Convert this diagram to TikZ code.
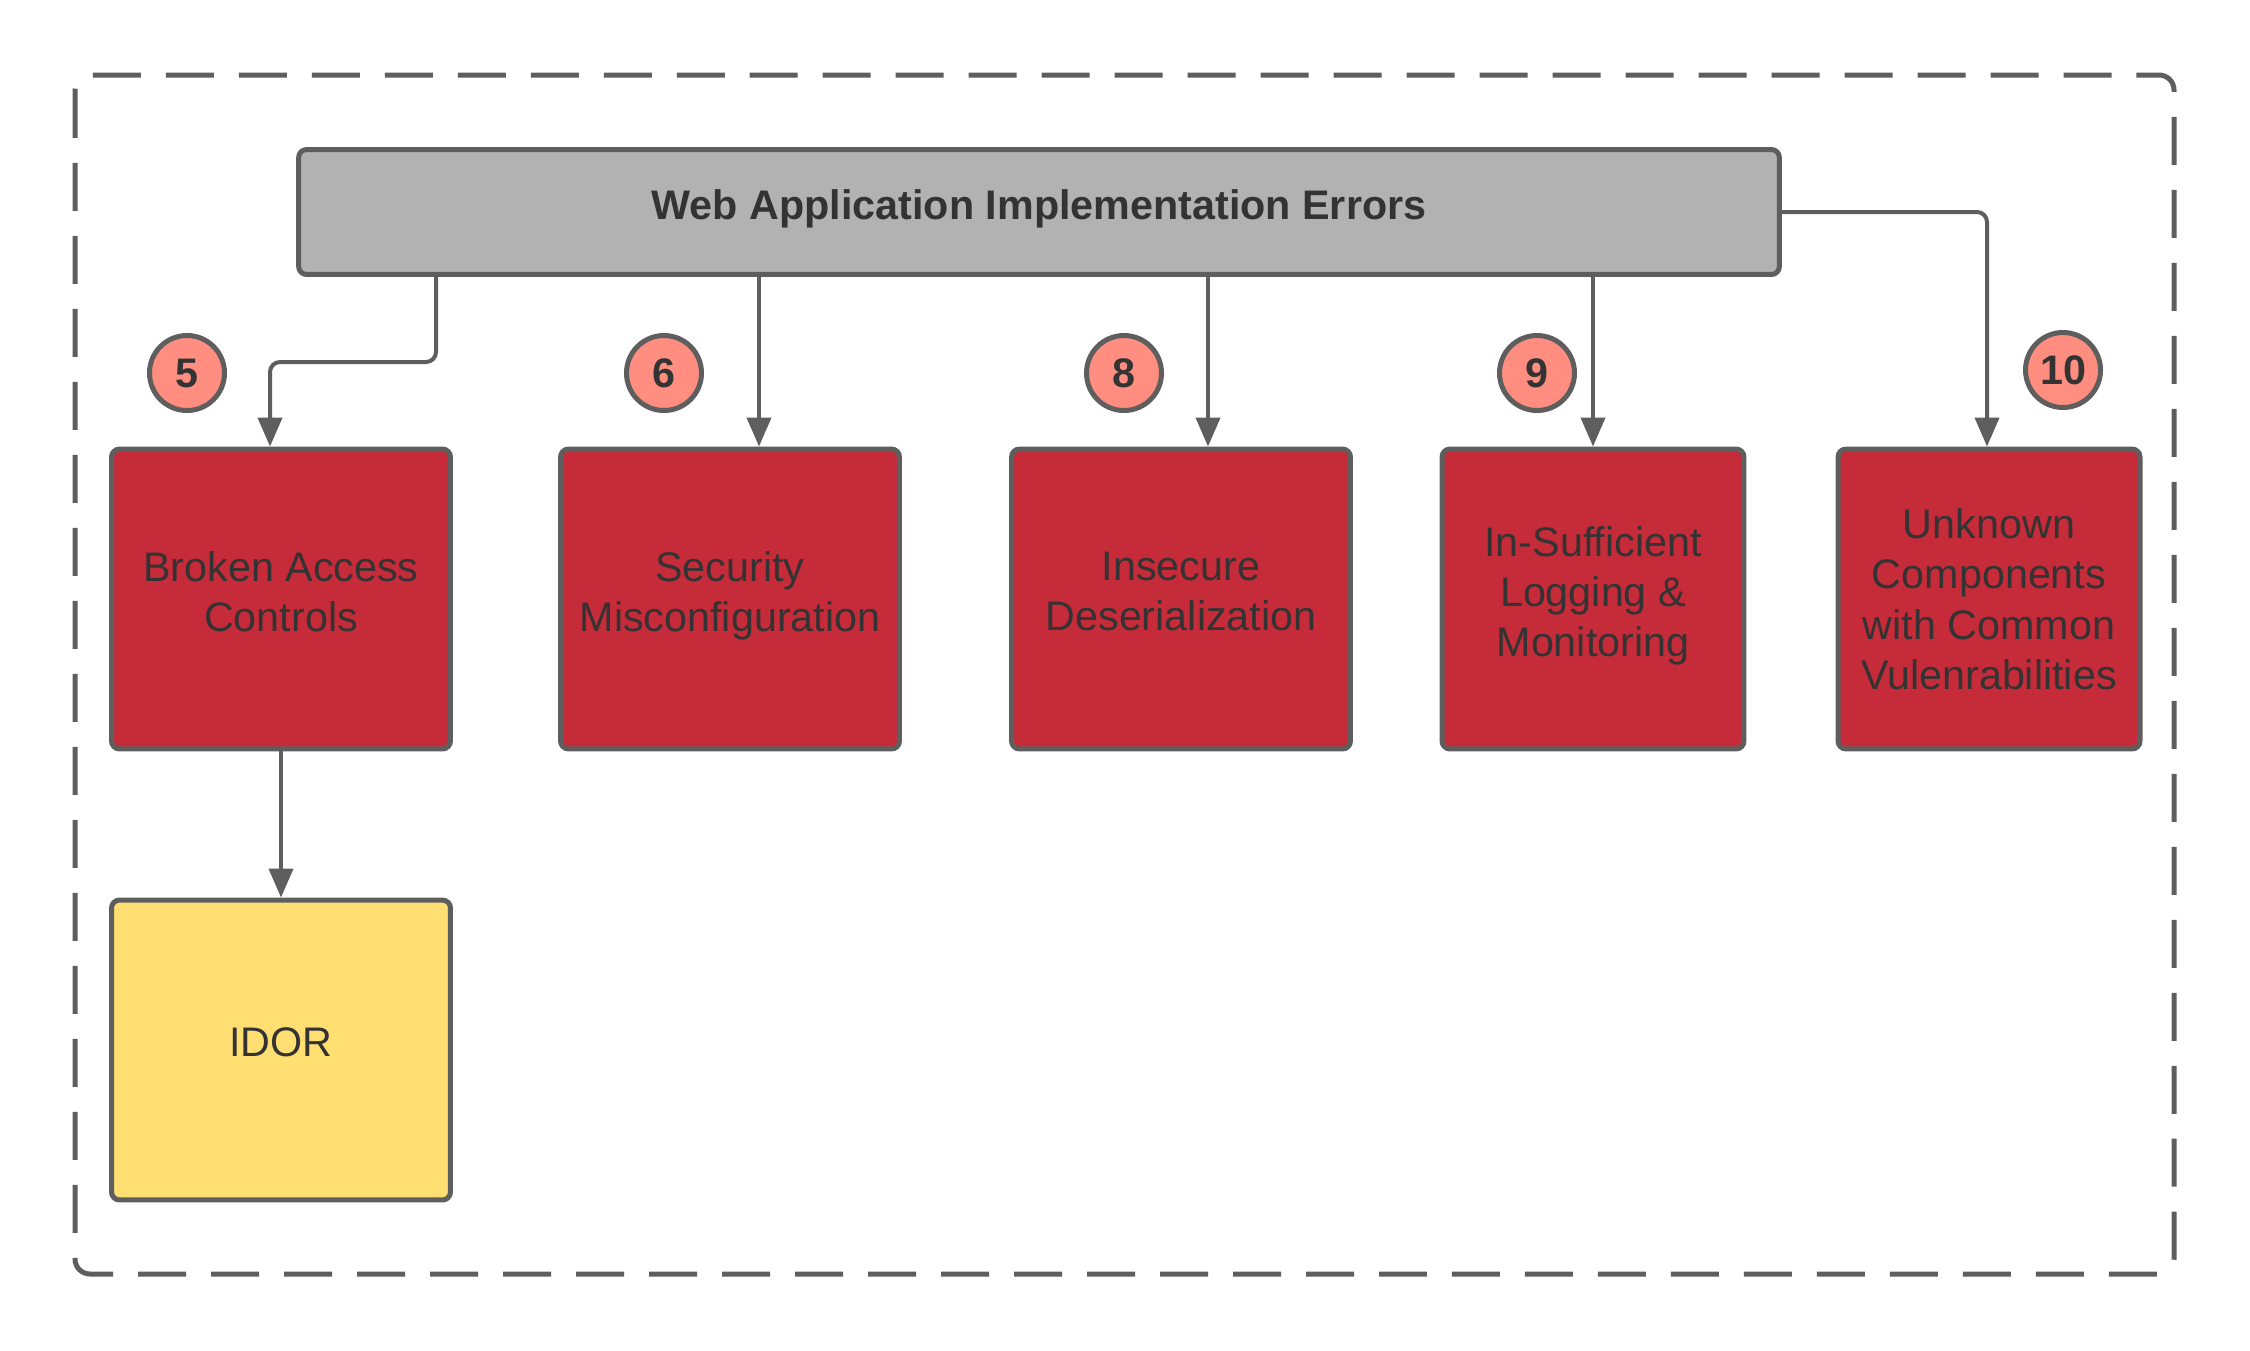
\documentclass[tikz,border=0pt]{standalone}
\usepackage{fontspec}
\setmainfont{Liberation Sans}
\usetikzlibrary{arrows.meta}
\definecolor{edge}{HTML}{5E5E5E}
\definecolor{txt}{HTML}{333333}
\definecolor{topgray}{HTML}{B2B2B2}
\definecolor{riskred}{HTML}{C62B39}
\definecolor{subyellow}{HTML}{FFDF71}
\definecolor{badge}{HTML}{FF8E80}
\begin{document}
\begin{tikzpicture}[x=0.02cm, y=-0.02cm,
  every node/.style={text=txt},
  frame/.style={draw=edge, line width=0.1cm, rounded corners=0.3cm,
                dash pattern=on 0.96cm off 0.5cm},
  head/.style={draw=edge, fill=topgray, line width=0.1cm, rounded corners=0.16cm,
               minimum width=29.62cm, minimum height=2.5cm, text depth=0.3cm,
               font=\fontsize{23.5}{28.5}\selectfont\bfseries},
  risk/.style={draw=edge, fill=riskred, line width=0.1cm, rounded corners=0.16cm,
               minimum height=6cm, align=center, inner sep=2pt, text depth=0.3cm,
               font=\fontsize{23.5}{28.5}\selectfont},
  sub/.style={risk, fill=subyellow},
  num/.style={circle, draw=edge, fill=badge, line width=0.1cm, minimum size=1.5cm,
              inner sep=0pt, font=\fontsize{23.5}{28.5}\selectfont\bfseries},
  conn/.style={draw=edge, line width=0.08cm, rounded corners=0.2cm,
               -{Triangle[length=0.58cm, width=0.48cm]}},
]
\fill[white] (0,0) rectangle (2250,1350);
\useasboundingbox (0,0) rectangle (2250,1350);
\draw[frame] (75,75) rectangle (2174,1274);

\node[head] (top) at (1039,212) {Web Application Implementation Errors};

\node[risk, minimum width=6.78cm] (b1) at (281,599)  {Broken Access\\Controls};
\node[risk, minimum width=6.78cm] (b2) at (730,599)  {Security\\Misconfiguration};
\node[risk, minimum width=6.78cm] (b3) at (1181,599) {Insecure\\Deserialization};
\node[risk, minimum width=6.04cm] (b4) at (1593,599) {In-Sufficient\\Logging \&\\Monitoring};
\node[risk, minimum width=6.04cm, text depth=0cm] (b5) at (1989,599) {Unknown\\Components\\with Common\\Vulenrabilities};
\node[sub,  minimum width=6.78cm] (idor) at (281,1050) {IDOR};

\node[num] (n5)  at (187,373)  {5};
\node[num] (n6)  at (664,373)  {6};
\node[num] (n8)  at (1124,373) {8};
\node[num] (n9)  at (1537,373) {9};
\node[num] (n10) at (2063,370) {10};

\coordinate (k1) at (436,362);
\coordinate (a1) at (270,0);
\coordinate (a2) at (759,0);
\coordinate (a3) at (1208,0);
\coordinate (a5) at (1987,0);

\draw[conn] (top.south -| k1) -- (k1) -| (b1.north -| a1);
\draw[conn] (top.south -| a2) -- (b2.north -| a2);
\draw[conn] (top.south -| a3) -- (b3.north -| a3);
\draw[conn] (top.south -| b4) -- (b4.north);
\draw[conn] (top.east) -| (b5.north -| a5);
\draw[conn] (b1.south) -- (idor.north);
\end{tikzpicture}
\end{document}
